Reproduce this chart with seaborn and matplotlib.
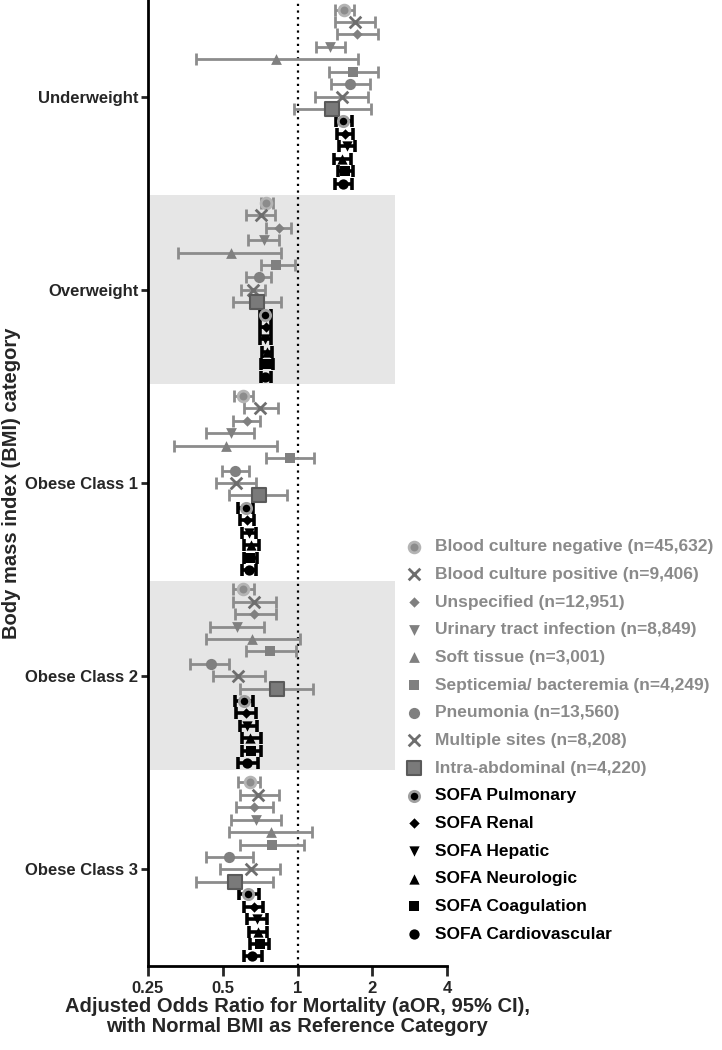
import numpy as np
import pandas as pd
import matplotlib
matplotlib.use("Agg")
import matplotlib.pyplot as plt
import seaborn as sns

sns.set_style("ticks")
plt.rcParams['font.family'] = ['Liberation Sans', 'DejaVu Sans']

# categories
bmi_groups = ["Underweight", "Overweight", "Obese Class 1", "Obese Class 2", "Obese Class 3"]
series = ["Blood culture negative (n=45,632)", "Blood culture positive (n=9,406)",
          "Unspecified (n=12,951)", "Urinary tract infection (n=8,849)",
          "Soft tissue (n=3,001)", "Septicemia/ bacteremia (n=4,249)",
          "Pneumonia (n=13,560)", "Multiple sites (n=8,208)", "Intra-abdominal (n=4,220)",
          "SOFA Pulmonary", "SOFA Renal", "SOFA Hepatic", "SOFA Neurologic",
          "SOFA Coagulation", "SOFA Cardiovascular"]

# aOR and 95% CI, one list per BMI group (order = series)
est_under = [1.54, 1.70, 1.74, 1.35, 0.82, 1.68, 1.63, 1.51, 1.38, 1.53, 1.56, 1.58, 1.51, 1.56, 1.53]
lo_under = [1.42, 1.42, 1.44, 1.19, 0.39, 1.34, 1.37, 1.18, 0.97, 1.43, 1.44, 1.47, 1.40, 1.45, 1.42]
hi_under = [1.69, 2.05, 2.11, 1.56, 1.76, 2.11, 1.95, 1.93, 1.97, 1.65, 1.67, 1.70, 1.64, 1.68, 1.66]

est_over = [0.75, 0.71, 0.84, 0.73, 0.54, 0.82, 0.70, 0.66, 0.69, 0.737, 0.744, 0.742, 0.755, 0.755, 0.742]
lo_over = [0.71, 0.62, 0.75, 0.63, 0.33, 0.71, 0.62, 0.59, 0.55, 0.707, 0.707, 0.707, 0.721, 0.712, 0.712]
hi_over = [0.80, 0.81, 0.94, 0.84, 0.86, 0.98, 0.78, 0.74, 0.86, 0.784, 0.779, 0.784, 0.788, 0.794, 0.779]

est_ob1 = [0.605, 0.705, 0.628, 0.538, 0.517, 0.934, 0.558, 0.565, 0.697, 0.618, 0.626, 0.637, 0.647, 0.645, 0.635]
lo_ob1 = [0.557, 0.609, 0.548, 0.428, 0.319, 0.746, 0.498, 0.469, 0.528, 0.578, 0.587, 0.598, 0.609, 0.607, 0.596]
hi_ob1 = [0.660, 0.836, 0.705, 0.670, 0.826, 1.163, 0.637, 0.678, 0.910, 0.663, 0.667, 0.680, 0.697, 0.684, 0.680]

est_ob2 = [0.605, 0.667, 0.667, 0.568, 0.658, 0.776, 0.447, 0.576, 0.824, 0.609, 0.618, 0.628, 0.643, 0.647, 0.628]
lo_ob2 = [0.548, 0.548, 0.558, 0.444, 0.428, 0.618, 0.369, 0.458, 0.589, 0.558, 0.567, 0.587, 0.600, 0.600, 0.576]
hi_ob2 = [0.670, 0.819, 0.819, 0.731, 1.019, 0.984, 0.531, 0.739, 1.156, 0.660, 0.680, 0.689, 0.712, 0.712, 0.691]

est_ob3 = [0.643, 0.695, 0.667, 0.680, 0.779, 0.786, 0.528, 0.647, 0.560, 0.634, 0.670, 0.686, 0.695, 0.705, 0.658]
lo_ob3 = [0.578, 0.587, 0.567, 0.538, 0.528, 0.587, 0.428, 0.489, 0.390, 0.579, 0.610, 0.628, 0.640, 0.642, 0.610]
hi_ob3 = [0.707, 0.839, 0.798, 0.859, 1.142, 1.060, 0.660, 0.849, 0.800, 0.697, 0.728, 0.751, 0.755, 0.770, 0.720]

x_ticks = [0.25, 0.5, 1, 2, 4]
x_ticklabels = ["0.25", "0.5", "1", "2", "4"]

# long table
rows = []
for g, (e, l, h) in enumerate([(est_under, lo_under, hi_under), (est_over, lo_over, hi_over),
                               (est_ob1, lo_ob1, hi_ob1), (est_ob2, lo_ob2, hi_ob2),
                               (est_ob3, lo_ob3, hi_ob3)]):
    for i, s in enumerate(series):
        rows.append({"bmi": bmi_groups[g], "series": s, "est": e[i], "lo": l[i], "hi": h[i],
                     "ypos": g + (i - 7) * 0.0643})
df = pd.DataFrame(rows)

GREY = "#808080"
EGREY = "#8c8c8c"
# marker styles per series
styles = [
    dict(marker="o", s=60, color="#8c8c8c", edgecolor="#b4b4b4", linewidth=2),
    dict(marker="x", s=70, color="#6e6e6e", linewidth=2),
    dict(marker="D", s=28, color=GREY, edgecolor=GREY, linewidth=0),
    dict(marker="v", s=60, color=GREY, edgecolor=GREY, linewidth=0),
    dict(marker="^", s=60, color=GREY, edgecolor=GREY, linewidth=0),
    dict(marker="s", s=55, color=GREY, edgecolor=GREY, linewidth=0),
    dict(marker="o", s=65, color=GREY, edgecolor=GREY, linewidth=0),
    dict(marker="x", s=70, color="#6e6e6e", linewidth=2),
    dict(marker="s", s=95, color="#7a7a7a", edgecolor="#5a5a5a", linewidth=1.5),
    dict(marker="o", s=55, color="black", edgecolor="#a0a0a0", linewidth=2),
    dict(marker="D", s=28, color="black", edgecolor="black", linewidth=0),
    dict(marker="v", s=55, color="black", edgecolor="black", linewidth=0),
    dict(marker="^", s=55, color="black", edgecolor="black", linewidth=0),
    dict(marker="s", s=60, color="black", edgecolor="black", linewidth=0),
    dict(marker="o", s=55, color="black", edgecolor="black", linewidth=0),
]

fig = plt.figure(figsize=(7.22, 10.5), dpi=100)
ax = fig.add_axes([148 / 722, 1 - 966 / 1050, 299 / 722, 966 / 1050])

# shaded bands for Overweight and Obese Class 2
for g in [1, 3]:
    ax.axhspan(g - 0.493, g + 0.485, xmin=0, xmax=0.826, color="#e6e6e6", zorder=0, lw=0)

ax.axvline(1, color="black", ls=(0, (1, 2)), lw=1.6, zorder=1)

for i, s in enumerate(series):
    sub = df[df["series"] == s]
    black = i >= 9
    ax.errorbar(sub["est"], sub["ypos"], xerr=[sub["est"] - sub["lo"], sub["hi"] - sub["est"]],
                fmt="none", ecolor="black" if black else EGREY,
                elinewidth=2.6 if black else 2, capsize=4.5 if black else 4,
                capthick=2.6 if black else 2, zorder=2)
    st = dict(styles[i])
    sns.scatterplot(data=sub, x="est", y="ypos", ax=ax, zorder=3, label=s, legend=False, **st)

ax.set_xscale("log", base=2)
ax.set_xlim(0.25, 4)
ax.set_ylim(4.5, -0.5)
ax.set_xticks(x_ticks)
ax.set_xticklabels(x_ticklabels, fontsize=12, fontweight="bold")
ax.xaxis.set_minor_locator(matplotlib.ticker.NullLocator())
ax.set_yticks(range(len(bmi_groups)))
ax.set_yticklabels(bmi_groups, fontsize=12, fontweight="bold")
ax.tick_params(axis="x", width=2, length=7, pad=4)
ax.tick_params(axis="y", width=2, length=5, pad=2)
for sp in ["left", "bottom"]:
    ax.spines[sp].set_linewidth(2)
    ax.spines[sp].set_color("black")
sns.despine(ax=ax)

ax.set_xlabel("Adjusted Odds Ratio for Mortality (aOR, 95% CI),\nwith Normal BMI as Reference Category",
              fontsize=14.5, fontweight="bold", linespacing=1.05)
ax.xaxis.set_label_coords(0.5, -0.032)
ax.set_ylabel("Body mass index (BMI) category", fontsize=14.5, fontweight="bold")
ax.yaxis.set_label_coords(-0.425, 0.5)

handles, labels = ax.get_legend_handles_labels()
leg = ax.legend(handles, labels, loc="upper left", bbox_to_anchor=(0.83, 0.449),
                frameon=False, prop={"weight": "bold", "size": 12.5},
                handletextpad=0.65, labelspacing=0.72, borderaxespad=0, handlelength=1.2)
for k, t in enumerate(leg.get_texts()):
    t.set_color("#8a8a8a" if k < 9 else "black")

fig.savefig("out.png", dpi=100)
